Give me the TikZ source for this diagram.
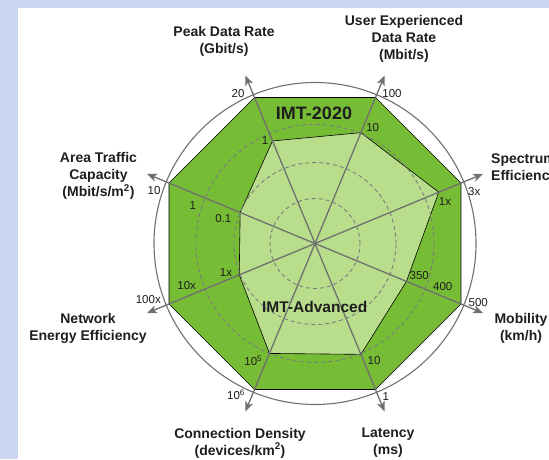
\documentclass[tikz,border=0pt]{standalone}
\usepackage{fontspec}
\setmainfont{Liberation Sans}
\usetikzlibrary{arrows.meta}
\definecolor{bgblue}{RGB}{201,216,240}
\definecolor{dkgreen}{RGB}{118,188,52}
\definecolor{ltgreen}{RGB}{184,222,140}
\definecolor{axgray}{RGB}{112,112,112}
\definecolor{dashgray}{RGB}{120,126,126}
\definecolor{txt}{RGB}{30,30,30}
\begin{document}
\begin{tikzpicture}[x=1pt,y=1pt,
  axislabel/.style={font=\fontsize{14}{17}\selectfont\bfseries, align=center, text=txt, inner sep=0pt},
  ticklabel/.style={font=\fontsize{11.5}{13}\selectfont, text=txt, inner sep=0pt},
  bigtitle/.style={font=\fontsize{18}{20}\selectfont\bfseries, text=txt, inner sep=0pt},
  midtitle/.style={font=\fontsize{15.5}{18}\selectfont\bfseries, text=txt, inner sep=0pt},
  polyedge/.style={draw=black, line width=0.6pt, line join=miter},
  outercirc/.style={draw=axgray, line width=1.1pt},
  dashcirc/.style={draw=dashgray, line width=0.9pt, dash pattern=on 4pt off 3pt},
  axisline/.style={draw=axgray, line width=1.3pt, -{Stealth[length=10pt,width=8pt,inset=2.5pt]}}]
\clip (0,0) rectangle (549,459);
\fill[bgblue] (0,0) rectangle (549,459);
\fill[white] (17.5,0) rectangle (549,451);
\coordinate (C) at (315,215.5);
\draw[outercirc] (C) circle[radius=161];
\foreach \a/\r [count=\i] in {112.5/111,67.5/120,22.5/134,-22.5/99,-67.5/120,-112.5/119,-157.5/82,157.5/81} {
  \coordinate (O\i) at ([shift={(\a:158)}]C);
  \coordinate (I\i) at ([shift={(\a:\r)}]C);
  \coordinate (T\i) at ([shift={(\a:182)}]C);
}
\draw[polyedge, fill=dkgreen] (O1)--(O2)--(O3)--(O4)--(O5)--(O6)--(O7)--(O8)--cycle;
\draw[polyedge, fill=ltgreen] (I1)--(I2)--(I3)--(I4)--(I5)--(I6)--(I7)--(I8)--cycle;
\foreach \rr in {45,81,119} \draw[dashcirc] (C) circle[radius=\rr];
\foreach \i in {1,...,8} \draw[axisline] (C) -- (T\i);
\fill[axgray] (C) circle[radius=1.6];
% titles
\node[bigtitle] (imt2020) at (314,345.7) {IMT-2020};
\node[midtitle] (imtadv) at (314.7,152) {IMT-Advanced};
% axis labels
\node[axislabel] (lpeak) at (224,417.5) {Peak Data Rate\\(Gbit/s)};
\node[axislabel] (luser) at (404,420.5) {User Experienced\\Data Rate\\(Mbit/s)};
\node[axislabel, anchor=west, align=left] (lspec) at (491,290.7) {Spectrum\\Efficiency};
\node[axislabel] (lmob) at (521,130.7) {Mobility\\(km/h)};
\node[axislabel] (llat) at (388,16) {Latency\\(ms)};
\node[axislabel] (lcon) at (240,16) {Connection Density\\(devices/km\textsuperscript{2})};
\node[axislabel] (lnet) at (88,131) {Network\\Energy Efficiency};
\node[axislabel] (larea) at (98.5,283) {Area Traffic\\Capacity\\(Mbit/s/m\textsuperscript{2})};
% tick labels
\node[ticklabel] (t20) at (238,365.7) {20};
\node[ticklabel] (t100) at (392,365.7) {100};
\node[ticklabel] (tpk1) at (265,318) {1};
\node[ticklabel] (tue10) at (372.7,331.3) {10};
\node[ticklabel] (t3x) at (474.3,267.3) {3x};
\node[ticklabel] (tse1x) at (445,257.3) {1x};
\node[ticklabel] (t350) at (419.3,183) {350};
\node[ticklabel] (t400) at (442.7,172.3) {400};
\node[ticklabel] (t500) at (478.3,156.3) {500};
\node[ticklabel] (tla10) at (374,98) {10};
\node[ticklabel] (tla1) at (385.7,62.3) {1};
\node[ticklabel] (t105) at (253.3,98) {10\textsuperscript{5}};
\node[ticklabel] (t106) at (236,64) {10\textsuperscript{6}};
\node[ticklabel] (t10x) at (186.7,173) {10x};
\node[ticklabel] (t100x) at (148.3,159) {100x};
\node[ticklabel] (tne1x) at (226,186.3) {1x};
\node[ticklabel] (tat10) at (154,268.3) {10};
\node[ticklabel] (tat1) at (192.7,253) {1};
\node[ticklabel] (t01) at (223.3,240) {0.1};
\end{tikzpicture}
\end{document}
